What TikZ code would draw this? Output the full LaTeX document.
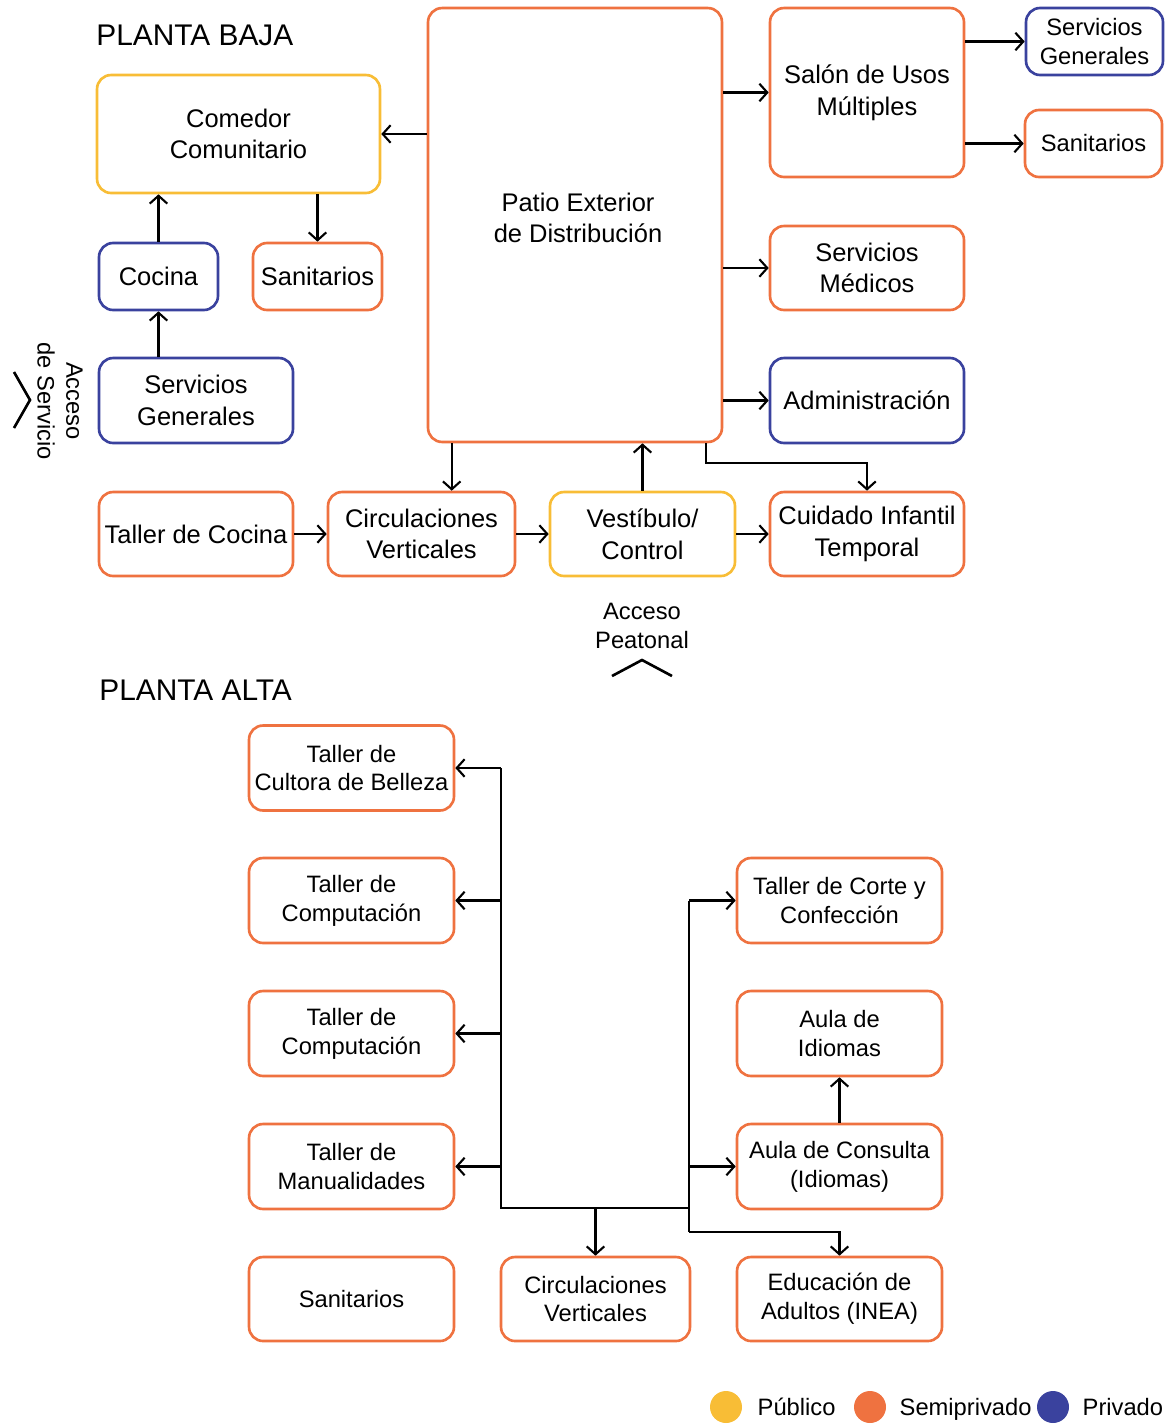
\documentclass[tikz,border=0pt]{standalone}
\usepackage{fontspec}
\setmainfont{Liberation Sans}
\usetikzlibrary{arrows.meta,positioning}

\definecolor{publico}{HTML}{F8BD36}
\definecolor{semipriv}{HTML}{EF7240}
\definecolor{privado}{HTML}{3A429E}

\tikzset{
    room/.style={draw, rounded corners=8pt, line width=1.5pt, align=center,
        inner sep=0pt, fill=white, font=\fontsize{14.5}{18}\selectfont},
    small/.style={font=\fontsize{13.5}{16.4}\selectfont},
    pub/.style={room, draw=publico},
    semi/.style={room, draw=semipriv},
    priv/.style={room, draw=privado},
    arr/.style={-{Straight Barb[length=4.5pt,width=10pt]}, line width=1.2pt},
    line/.style={line width=1.2pt},
    title/.style={anchor=west, inner sep=0pt, font=\fontsize{17}{20}\selectfont},
    legtext/.style={small, inner sep=0pt, text height=1.75ex, text depth=0.5ex, yshift=-0.06cm},
}

\begin{document}
\begin{tikzpicture}[x=0.02cm, y=-0.02cm]
    \useasboundingbox (0,0) rectangle (1167,1424);

    % Planta baja
    \node[title] (baja) at (96,35) {PLANTA BAJA};

    \node[semi, minimum width=5.88cm, minimum height=8.68cm] (patio) at (575,225) {};
    \node[align=center, font=\fontsize{14.5}{18}\selectfont] (patiotext) at (578,218) {Patio Exterior\\de Distribución};

    \node[pub, minimum width=5.66cm, minimum height=2.36cm] (comedor) at (238.5,134) {Comedor\\Comunitario};
    \node[priv, minimum width=2.38cm, minimum height=1.34cm] (cocina) at (158.5,276.5) {Cocina};
    \node[semi, minimum width=2.58cm, minimum height=1.34cm] (sanL) at (317.5,276.5) {Sanitarios};
    \node[priv, minimum width=3.88cm, minimum height=1.70cm] (servL) at (196,400.5) {Servicios\\Generales};

    \node[semi, minimum width=3.88cm, minimum height=3.38cm] (salon) at (867,92.5) {Salón de Usos\\Múltiples};
    \node[priv, small, minimum width=2.74cm, minimum height=1.34cm] (servR) at (1094.5,41.5) {Servicios\\Generales};
    \node[semi, small, minimum width=2.74cm, minimum height=1.34cm] (sanR) at (1093.5,143.5) {Sanitarios};
    \node[semi, minimum width=3.88cm, minimum height=1.68cm] (medicos) at (867,268) {Servicios\\Médicos};
    \node[priv, minimum width=3.88cm, minimum height=1.70cm] (admin) at (867,400.5) {Administración};

    \node[semi, minimum width=3.88cm, minimum height=1.68cm] (tcocina) at (196,534) {Taller de Cocina};
    \node[semi, minimum width=3.74cm, minimum height=1.68cm] (circ) at (421.5,534) {Circulaciones\\Verticales};
    \node[pub, minimum width=3.70cm, minimum height=1.68cm] (vest) at (642.5,534) {Vestíbulo/\\Control};
    \node[semi, minimum width=3.88cm, minimum height=1.68cm] (cuidado) at (867,534) {Cuidado Infantil\\Temporal};

    % Conexiones planta baja
    \draw[arr] (patio.west |- comedor) -- (comedor.east);
    \draw[arr] (cocina.north) -- (cocina.north |- comedor.south);
    \draw[arr] (sanL.north |- comedor.south) -- (sanL.north);
    \draw[arr] (cocina.south |- servL.north) -- (cocina.south);
    \draw[arr] (patio.east |- salon) -- (salon.west);
    \draw[arr] (salon.east |- servR) -- (servR.west);
    \draw[arr] (salon.east |- sanR) -- (sanR.west);
    \draw[arr] (patio.east |- medicos) -- (medicos.west);
    \draw[arr] (patio.east |- admin) -- (admin.west);
    \draw[arr] ([xshift=0.5cm]patio.south west) -- ([xshift=0.5cm]patio.south west |- circ.north);
    \draw[arr] (vest.north) -- (vest.north |- patio.south);
    \draw[arr] ([xshift=-0.34cm]patio.south east) -- ++(0,20) -| (cuidado.north);
    \draw[arr] (tcocina.east) -- (circ.west);
    \draw[arr] (circ.east) -- (vest.west);
    \draw[arr] (vest.east) -- (cuidado.west);

    % Accesos
    \node[align=center, small] (peatonal) at (642,626) {Acceso\\Peatonal};
    \draw[line width=1.5pt] (612,676) -- (642,660) -- (672,676);
    \node[align=center, small, rotate=-90] (servicio) at (60,401) {Acceso\\de Servicio};
    \draw[line width=1.5pt] (14,372) -- (30,400) -- (14,428);

    % Planta alta
    \node[title] (alta) at (99,690) {PLANTA ALTA};

    \node[semi, small, minimum width=4.10cm, minimum height=1.70cm] (belleza) at (351.5,768) {Taller de\\Cultora de Belleza};
    \node[semi, small, minimum width=4.10cm, minimum height=1.70cm] (compA) at (351.5,900.5) {Taller de\\Computación};
    \node[semi, small, minimum width=4.10cm, minimum height=1.70cm] (compB) at (351.5,1033.5) {Taller de\\Computación};
    \node[semi, small, minimum width=4.10cm, minimum height=1.70cm] (manual) at (351.5,1166.5) {Taller de\\Manualidades};
    \node[semi, small, minimum width=4.10cm, minimum height=1.68cm] (sanA) at (351.5,1299) {Sanitarios};
    \node[semi, small, minimum width=3.78cm, minimum height=1.68cm] (circA) at (595.5,1299) {Circulaciones\\Verticales};
    \node[semi, small, minimum width=4.10cm, minimum height=1.70cm] (corte) at (839.5,900.5) {Taller de Corte y\\Confección};
    \node[semi, small, minimum width=4.10cm, minimum height=1.70cm] (idiomas) at (839.5,1033.5) {Aula de\\Idiomas};
    \node[semi, small, minimum width=4.10cm, minimum height=1.70cm] (consulta) at (839.5,1166.5) {Aula de Consulta\\(Idiomas)};
    \node[semi, small, minimum width=4.10cm, minimum height=1.68cm] (adultos) at (839.5,1299) {Educación de\\Adultos (INEA)};

    % Conexiones planta alta
    \coordinate (jL) at (501,1208);
    \coordinate (jR) at (689,1208);
    \coordinate (jE) at (689,1232);
    \draw[line] (jL |- belleza) -- (jL) -- (jR);
    \draw[line] (jR |- corte) -- (jE);
    \foreach \n in {belleza,compA,compB,manual}
        \draw[arr] (jL |- \n) -- (\n.east);
    \foreach \n in {corte,consulta}
        \draw[arr] (jR |- \n) -- (\n.west);
    \draw[arr] (jL -| circA) -- (circA.north);
    \draw[arr] (jE) -| (adultos.north);
    \draw[arr] (consulta.north) -- (idiomas.south);

    % Leyenda
    \node[circle, fill=publico, minimum size=0.64cm, inner sep=0pt] (legpub) at (726,1407) {};
    \node[legtext, right=0.3cm of legpub] (txtpub) {Público};
    \node[circle, fill=semipriv, minimum size=0.64cm, inner sep=0pt] (legsemi) at (870,1407) {};
    \node[legtext, right=0.26cm of legsemi] (txtsemi) {Semiprivado};
    \node[circle, fill=privado, minimum size=0.64cm, inner sep=0pt] (legpriv) at (1053,1407) {};
    \node[legtext, right=0.26cm of legpriv] (txtpriv) {Privado};
\end{tikzpicture}
\end{document}
